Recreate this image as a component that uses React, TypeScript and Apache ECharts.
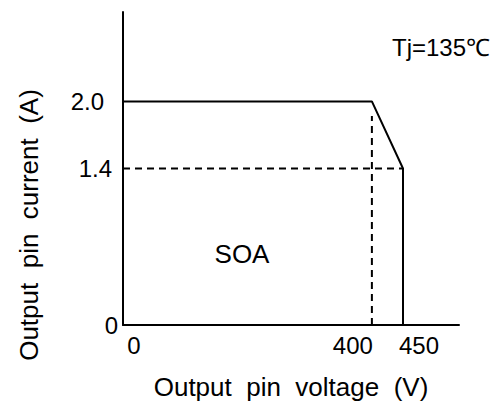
import React, { useEffect, useRef } from "react";
import * as echarts from "echarts";

// SOA boundary (Output pin voltage V, Output pin current A)
const boundaryVoltage = [0, 400, 450, 450];
const boundaryCurrent = [2.0, 2.0, 1.4, 0];
// dashed guide lines
const guideHVoltage = [0, 450];
const guideHCurrent = [1.4, 1.4];
const guideVVoltage = [400, 400];
const guideVCurrent = [0, 1.87];
// labelled ticks
const xTicks = [0, 400, 450];
const yTicks = [0, 1.4, 2.0];
const xMax = 540;
const yMax = 2.8;

const FONT = "'Liberation Sans', Arial, Helvetica, sans-serif";

const pairs = (xs: number[], ys: number[]) => xs.map((x, i) => [x, ys[i]]);
const near = (a: number, b: number) => Math.abs(a - b) < 1e-6;

export default function App() {
  const ref = useRef<HTMLDivElement>(null);

  useEffect(() => {
    const chart = echarts.init(ref.current!, null, { renderer: "svg" });
    const txt = { color: "#000", fontFamily: FONT, fontSize: 24 };
    chart.setOption({
      animation: false,
      grid: { left: 123, right: 38, top: 12, bottom: 79 },
      xAxis: {
        type: "value",
        min: 0,
        max: xMax,
        interval: 50,
        axisLine: { lineStyle: { color: "#000", width: 2 } },
        axisTick: { show: false },
        splitLine: { show: false },
        axisLabel: {
          ...txt,
          margin: 8,
          formatter: (v: number) => {
            if (near(v, xTicks[0])) return `{a|${xTicks[0]}}`;
            if (near(v, xTicks[1])) return `{b|${xTicks[1]}}`;
            if (near(v, xTicks[2])) return `{c|${xTicks[2]}}`;
            return "";
          },
          rich: {
            a: { ...txt, padding: [0, 0, 0, 22] },
            b: { ...txt, padding: [0, 38, 0, 0] },
            c: { ...txt, padding: [0, 0, 0, 32] },
          },
        },
        name: "Output  pin  voltage  (V)",
        nameLocation: "middle",
        nameGap: 49,
        nameTextStyle: { color: "#000", fontFamily: FONT, fontSize: 26 },
      },
      yAxis: {
        type: "value",
        min: 0,
        max: yMax,
        interval: 0.2,
        axisLine: { lineStyle: { color: "#000", width: 2 } },
        axisTick: { show: false },
        splitLine: { show: false },
        axisLabel: {
          ...txt,
          margin: 5,
          formatter: (v: number) => {
            if (near(v, yTicks[0])) return `{a|${yTicks[0]}}`;
            if (near(v, yTicks[1])) return `{b|${yTicks[1].toFixed(1)}}`;
            if (near(v, yTicks[2])) return `{c|${yTicks[2].toFixed(1)}}`;
            return "";
          },
          rich: {
            a: { ...txt },
            b: { ...txt, padding: [0, 6, 0, 0] },
            c: { ...txt, padding: [0, 14, 0, 0] },
          },
        },
      },
      graphic: [
        {
          type: "text",
          x: 29,
          y: 225,
          rotation: Math.PI / 2,
          style: {
            text: "Output  pin  current  (A)",
            fill: "#000",
            font: `26px ${FONT}`,
            textAlign: "center",
            textVerticalAlign: "middle",
          },
        },
        {
          type: "text",
          x: 242,
          y: 254,
          style: {
            text: "SOA",
            fill: "#000",
            font: `26px ${FONT}`,
            textAlign: "center",
            textVerticalAlign: "middle",
          },
        },
        {
          type: "text",
          x: 392,
          y: 47,
          style: {
            text: "Tj=135℃",
            fill: "#000",
            font: `24px ${FONT}`,
            textAlign: "left",
            textVerticalAlign: "middle",
          },
        },
      ],
      series: [
        {
          type: "line",
          data: pairs(guideHVoltage, guideHCurrent),
          symbol: "none",
          silent: true,
          lineStyle: { color: "#000", width: 2, type: [7, 5] },
        },
        {
          type: "line",
          data: pairs(guideVVoltage, guideVCurrent),
          symbol: "none",
          silent: true,
          lineStyle: { color: "#000", width: 2, type: [7, 5] },
        },
        {
          type: "line",
          data: pairs(boundaryVoltage, boundaryCurrent),
          symbol: "none",
          silent: true,
          lineStyle: { color: "#000", width: 2 },
        },
      ],
    });
    return () => chart.dispose();
  }, []);

  return (
    <div
      ref={ref}
      style={{ position: "absolute", left: 0, top: 0, width: 497, height: 405 }}
    />
  );
}
